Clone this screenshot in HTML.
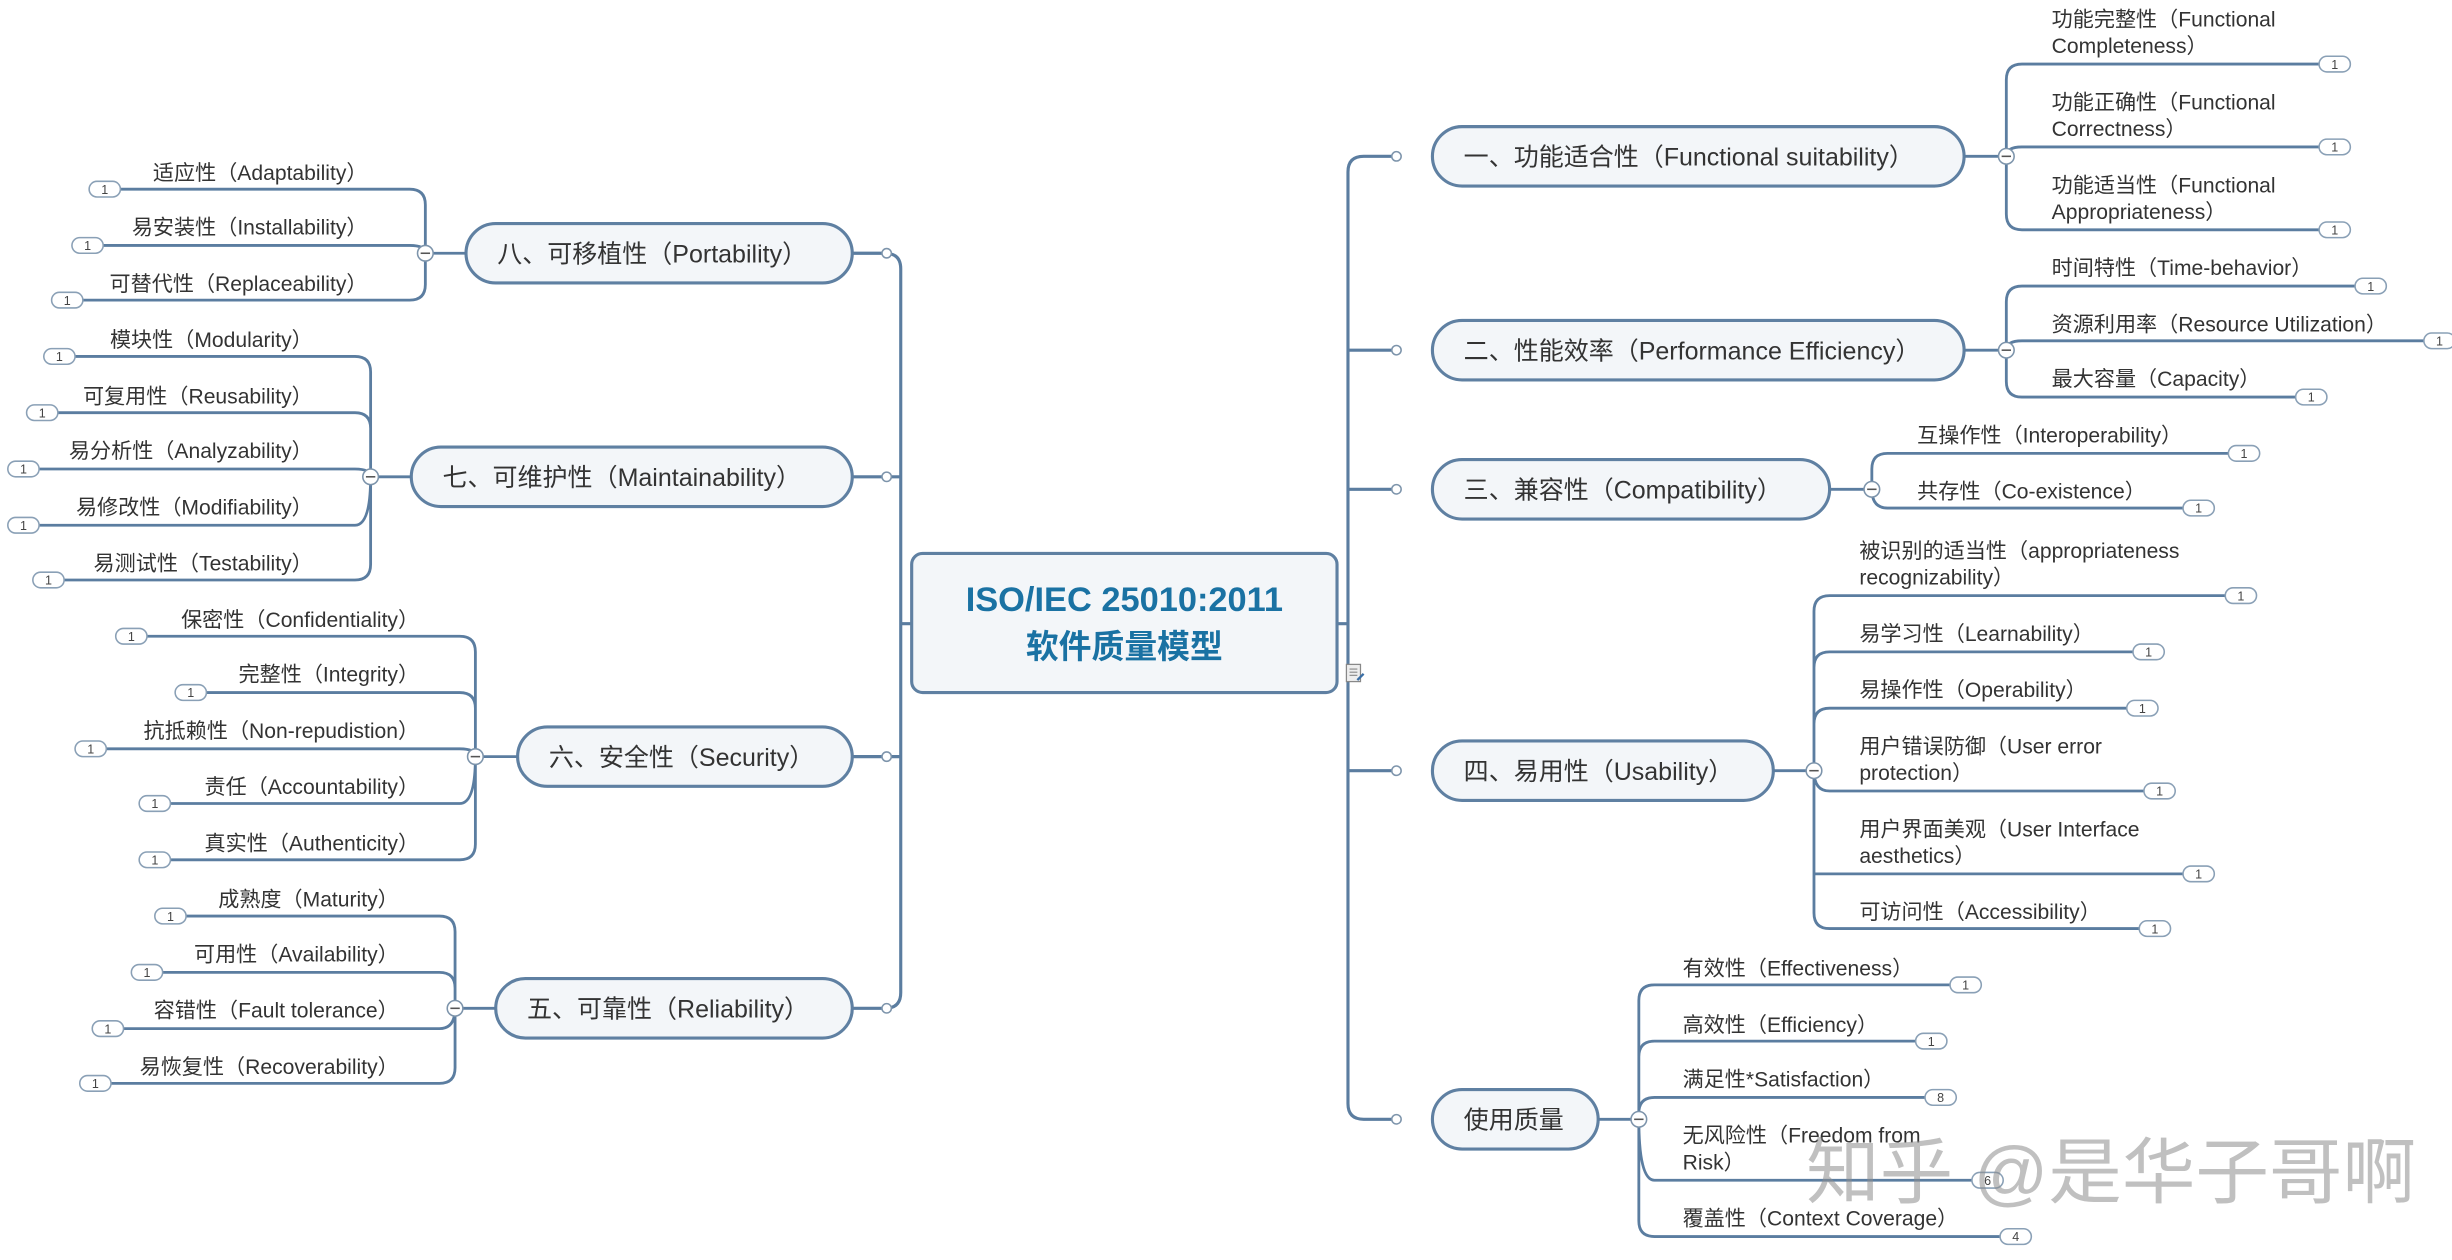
<!DOCTYPE html>
<html><head><meta charset="utf-8">
<style>
html,body{margin:0;padding:0;background:#fff;}
svg{display:block;}
text{font-family:"Liberation Sans","Noto Sans CJK SC",sans-serif;}
.c{font-size:13.5px;fill:#333;}
.b{font-size:16px;fill:#333;}
.bg{font-size:8px;fill:#444;text-anchor:middle;}
.l{fill:none;stroke:#5b7da0;stroke-width:2;}
.k{fill:none;stroke:#5b7da0;stroke-width:1.8;}
.box{fill:#f3f6f9;stroke:#5f80a2;stroke-width:2;}
.bd{fill:#fff;stroke:#8aa0b6;stroke-width:1;}
.cc{fill:#fff;stroke:#7d94ab;stroke-width:1;}
</style></head><body>
<svg width="2452" height="1260" viewBox="0 0 1568 806" preserveAspectRatio="none" xmlns="http://www.w3.org/2000/svg">
<rect width="1568" height="806" fill="#fff"/>
<path class="l" d="M855 399 H862 M893 100 H872 Q862 100 862 110 V706 Q862 716 872 716 H893 M862 224 H893 M862 313 H893 M862 493 H893"/>
<path class="l" d="M583 399 H576 M545 162 H566 Q576 162 576 172 V635 Q576 645 566 645 H545 M576 305 H545 M576 484 H545"/>
<circle class="cc" cx="893" cy="100" r="3"/><circle class="cc" cx="893" cy="224" r="3"/><circle class="cc" cx="893" cy="313" r="3"/><circle class="cc" cx="893" cy="493" r="3"/><circle class="cc" cx="893" cy="716" r="3"/>
<circle class="cc" cx="567" cy="162" r="3"/><circle class="cc" cx="567" cy="305" r="3"/><circle class="cc" cx="567" cy="484" r="3"/><circle class="cc" cx="567" cy="645" r="3"/>

<rect x="583" y="354" width="272" height="89" rx="7" class="box"/>
<text x="719" y="391" text-anchor="middle" style="font-size:22px;font-weight:bold;fill:#1a72a3">ISO/IEC 25010:2011</text>
<text x="719" y="421" text-anchor="middle" style="font-size:21px;font-weight:bold;fill:#1a72a3">软件质量模型</text>
<g transform="translate(861,425)"><rect x="0" y="0" width="9" height="11" fill="#eee" stroke="#888" stroke-width="0.8"/><path d="M2 3H7M2 5H7M2 7H7" stroke="#888" stroke-width="0.7"/><path d="M7 10 L11 6" stroke="#3a6ea5" stroke-width="1.5"/></g>

<rect x="916" y="81" width="340" height="38" rx="19" class="box"/><text class="b" x="936" y="106">一、功能适合性（Functional suitability）</text>
<rect x="916" y="205" width="340" height="38" rx="19" class="box"/><text class="b" x="936" y="230">二、性能效率（Performance Efficiency）</text>
<rect x="916" y="294" width="254" height="38" rx="19" class="box"/><text class="b" x="936" y="319">三、兼容性（Compatibility）</text>
<rect x="916" y="474" width="218" height="38" rx="19" class="box"/><text class="b" x="936" y="499">四、易用性（Usability）</text>
<rect x="916" y="697" width="106" height="38" rx="19" class="box"/><text class="b" x="936" y="722">使用质量</text>
<rect x="298" y="143" width="247" height="38" rx="19" class="box"/><text class="b" x="318" y="168">八、可移植性（Portability）</text>
<rect x="263" y="286" width="282" height="38" rx="19" class="box"/><text class="b" x="283" y="311">七、可维护性（Maintainability）</text>
<rect x="331" y="465" width="214" height="38" rx="19" class="box"/><text class="b" x="351" y="490">六、安全性（Security）</text>
<rect x="317" y="626" width="228" height="38" rx="19" class="box"/><text class="b" x="337" y="651">五、可靠性（Reliability）</text>

<path class="k" d="M1256 100 H1283 M1283 100 V51 Q1283 41 1293 41 H1483 M1283 100 Q1283 94 1293 94 H1483 M1283 100 V137 Q1283 147 1293 147 H1483"/>
<circle class="cc" cx="1283" cy="100" r="5"/><path d="M1280 100H1286" stroke="#555"/>
<text class="c" x="1312" y="17">功能完整性（Functional</text><text class="c" x="1312" y="34">Completeness）</text>
<text class="c" x="1312" y="70">功能正确性（Functional</text><text class="c" x="1312" y="87">Correctness）</text>
<text class="c" x="1312" y="123">功能适当性（Functional</text><text class="c" x="1312" y="140">Appropriateness）</text>
<rect class="bd" x="1483" y="36" width="20" height="10" rx="5"/><text class="bg" x="1493" y="44">1</text>
<rect class="bd" x="1483" y="89" width="20" height="10" rx="5"/><text class="bg" x="1493" y="97">1</text>
<rect class="bd" x="1483" y="142" width="20" height="10" rx="5"/><text class="bg" x="1493" y="150">1</text>

<path class="k" d="M1256 224 H1283 M1283 224 V193 Q1283 183 1293 183 H1506 M1283 224 Q1283 218 1293 218 H1550 M1283 224 V244 Q1283 254 1293 254 H1468"/>
<circle class="cc" cx="1283" cy="224" r="5"/><path d="M1280 224H1286" stroke="#555"/>
<text class="c" x="1312" y="176">时间特性（Time-behavior）</text>
<text class="c" x="1312" y="212">资源利用率（Resource Utilization）</text>
<text class="c" x="1312" y="247">最大容量（Capacity）</text>
<rect class="bd" x="1506" y="178" width="20" height="10" rx="5"/><text class="bg" x="1516" y="186">1</text>
<rect class="bd" x="1550" y="213" width="20" height="10" rx="5"/><text class="bg" x="1560" y="221">1</text>
<rect class="bd" x="1468" y="249" width="20" height="10" rx="5"/><text class="bg" x="1478" y="257">1</text>

<path class="k" d="M1170 313 H1197 M1197 313 V300 Q1197 290 1207 290 H1425 M1197 313 Q1197 325 1207 325 H1396"/>
<circle class="cc" cx="1197" cy="313" r="5"/><path d="M1194 313H1200" stroke="#555"/>
<text class="c" x="1226" y="283">互操作性（Interoperability）</text>
<text class="c" x="1226" y="319">共存性（Co-existence）</text>
<rect class="bd" x="1425" y="285" width="20" height="10" rx="5"/><text class="bg" x="1435" y="293">1</text>
<rect class="bd" x="1396" y="320" width="20" height="10" rx="5"/><text class="bg" x="1406" y="328">1</text>

<path class="k" d="M1134 493 H1160 M1160 493 V391 Q1160 381 1170 381 H1423 M1160 427 Q1160 417 1170 417 H1364 M1160 463 Q1160 453 1170 453 H1360 M1160 493 Q1160 506 1170 506 H1371 M1160 493 V584 Q1160 594 1170 594 H1368 M1160 559 H1396"/>
<circle class="cc" cx="1160" cy="493" r="5"/><path d="M1157 493H1163" stroke="#555"/>
<text class="c" x="1189" y="357">被识别的适当性（appropriateness</text><text class="c" x="1189" y="374">recognizability）</text>
<text class="c" x="1189" y="410">易学习性（Learnability）</text>
<text class="c" x="1189" y="446">易操作性（Operability）</text>
<text class="c" x="1189" y="482">用户错误防御（User error</text><text class="c" x="1189" y="499">protection）</text>
<text class="c" x="1189" y="535">用户界面美观（User Interface</text><text class="c" x="1189" y="552">aesthetics）</text>
<text class="c" x="1189" y="588">可访问性（Accessibility）</text>
<rect class="bd" x="1423" y="376" width="20" height="10" rx="5"/><text class="bg" x="1433" y="384">1</text>
<rect class="bd" x="1364" y="412" width="20" height="10" rx="5"/><text class="bg" x="1374" y="420">1</text>
<rect class="bd" x="1360" y="448" width="20" height="10" rx="5"/><text class="bg" x="1370" y="456">1</text>
<rect class="bd" x="1371" y="501" width="20" height="10" rx="5"/><text class="bg" x="1381" y="509">1</text>
<rect class="bd" x="1396" y="554" width="20" height="10" rx="5"/><text class="bg" x="1406" y="562">1</text>
<rect class="bd" x="1368" y="589" width="20" height="10" rx="5"/><text class="bg" x="1378" y="597">1</text>

<path class="k" d="M1022 716 H1048 M1048 716 V640 Q1048 630 1058 630 H1247 M1048 676 Q1048 666 1058 666 H1225 M1048 712 Q1048 702 1058 702 H1231 M1048 716 Q1048 755 1058 755 H1261 M1048 716 V781 Q1048 791 1058 791 H1279"/>
<circle class="cc" cx="1048" cy="716" r="5"/><path d="M1045 716H1051" stroke="#555"/>
<text class="c" x="1076" y="624">有效性（Effectiveness）</text>
<text class="c" x="1076" y="660">高效性（Efficiency）</text>
<text class="c" x="1076" y="695">满足性*Satisfaction）</text>
<text class="c" x="1076" y="731">无风险性（Freedom from</text><text class="c" x="1076" y="748">Risk）</text>
<text class="c" x="1076" y="784">覆盖性（Context Coverage）</text>
<rect class="bd" x="1247" y="625" width="20" height="10" rx="5"/><text class="bg" x="1257" y="633">1</text>
<rect class="bd" x="1225" y="661" width="20" height="10" rx="5"/><text class="bg" x="1235" y="669">1</text>
<rect class="bd" x="1231" y="697" width="20" height="10" rx="5"/><text class="bg" x="1241" y="705">8</text>
<rect class="bd" x="1261" y="750" width="20" height="10" rx="5"/><text class="bg" x="1271" y="758">6</text>
<rect class="bd" x="1279" y="786" width="20" height="10" rx="5"/><text class="bg" x="1289" y="794">4</text>

<path class="k" d="M298 162 H272 M272 162 V131 Q272 121 262 121 H77 M272 162 Q272 157 262 157 H66 M272 162 V182 Q272 192 262 192 H53"/>
<circle class="cc" cx="272" cy="162" r="5"/><path d="M269 162H275" stroke="#555"/>
<text class="c" x="235" y="115" text-anchor="end">适应性（Adaptability）</text>
<text class="c" x="235" y="150" text-anchor="end">易安装性（Installability）</text>
<text class="c" x="235" y="186" text-anchor="end">可替代性（Replaceability）</text>
<rect class="bd" x="57" y="116" width="20" height="10" rx="5"/><text class="bg" x="67" y="124">1</text>
<rect class="bd" x="46" y="152" width="20" height="10" rx="5"/><text class="bg" x="56" y="160">1</text>
<rect class="bd" x="33" y="187" width="20" height="10" rx="5"/><text class="bg" x="43" y="195">1</text>

<path class="k" d="M263 305 H237 M237 305 V238 Q237 228 227 228 H48 M237 274 V305 M237 274 Q237 264 227 264 H37 M237 305 Q237 300 227 300 H25 M237 305 Q237 336 227 336 H25 M237 305 V361 Q237 371 227 371 H41"/>
<circle class="cc" cx="237" cy="305" r="5"/><path d="M234 305H240" stroke="#555"/>
<text class="c" x="200" y="222" text-anchor="end">模块性（Modularity）</text>
<text class="c" x="200" y="258" text-anchor="end">可复用性（Reusability）</text>
<text class="c" x="200" y="293" text-anchor="end">易分析性（Analyzability）</text>
<text class="c" x="200" y="329" text-anchor="end">易修改性（Modifiability）</text>
<text class="c" x="200" y="365" text-anchor="end">易测试性（Testability）</text>
<rect class="bd" x="28" y="223" width="20" height="10" rx="5"/><text class="bg" x="38" y="231">1</text>
<rect class="bd" x="17" y="259" width="20" height="10" rx="5"/><text class="bg" x="27" y="267">1</text>
<rect class="bd" x="5" y="295" width="20" height="10" rx="5"/><text class="bg" x="15" y="303">1</text>
<rect class="bd" x="5" y="331" width="20" height="10" rx="5"/><text class="bg" x="15" y="339">1</text>
<rect class="bd" x="21" y="366" width="20" height="10" rx="5"/><text class="bg" x="31" y="374">1</text>

<path class="k" d="M331 484 H304 M304 484 V417 Q304 407 294 407 H94 M304 453 Q304 443 294 443 H132 M304 484 Q304 479 294 479 H68 M304 484 Q304 514 294 514 H109 M304 484 V540 Q304 550 294 550 H109"/>
<circle class="cc" cx="304" cy="484" r="5"/><path d="M301 484H307" stroke="#555"/>
<text class="c" x="268" y="401" text-anchor="end">保密性（Confidentiality）</text>
<text class="c" x="268" y="436" text-anchor="end">完整性（Integrity）</text>
<text class="c" x="268" y="472" text-anchor="end">抗抵赖性（Non-repudistion）</text>
<text class="c" x="268" y="508" text-anchor="end">责任（Accountability）</text>
<text class="c" x="268" y="544" text-anchor="end">真实性（Authenticity）</text>
<rect class="bd" x="74" y="402" width="20" height="10" rx="5"/><text class="bg" x="84" y="410">1</text>
<rect class="bd" x="112" y="438" width="20" height="10" rx="5"/><text class="bg" x="122" y="446">1</text>
<rect class="bd" x="48" y="474" width="20" height="10" rx="5"/><text class="bg" x="58" y="482">1</text>
<rect class="bd" x="89" y="509" width="20" height="10" rx="5"/><text class="bg" x="99" y="517">1</text>
<rect class="bd" x="89" y="545" width="20" height="10" rx="5"/><text class="bg" x="99" y="553">1</text>

<path class="k" d="M317 645 H291 M291 645 V596 Q291 586 281 586 H119 M291 632 Q291 622 281 622 H104 M291 645 Q291 658 281 658 H79 M291 645 V683 Q291 693 281 693 H71"/>
<circle class="cc" cx="291" cy="645" r="5"/><path d="M288 645H294" stroke="#555"/>
<text class="c" x="255" y="580" text-anchor="end">成熟度（Maturity）</text>
<text class="c" x="255" y="615" text-anchor="end">可用性（Availability）</text>
<text class="c" x="255" y="651" text-anchor="end">容错性（Fault tolerance）</text>
<text class="c" x="255" y="687" text-anchor="end">易恢复性（Recoverability）</text>
<rect class="bd" x="99" y="581" width="20" height="10" rx="5"/><text class="bg" x="109" y="589">1</text>
<rect class="bd" x="84" y="617" width="20" height="10" rx="5"/><text class="bg" x="94" y="625">1</text>
<rect class="bd" x="59" y="653" width="20" height="10" rx="5"/><text class="bg" x="69" y="661">1</text>
<rect class="bd" x="51" y="688" width="20" height="10" rx="5"/><text class="bg" x="61" y="696">1</text>

<text x="1155" y="766" textLength="390" lengthAdjust="spacingAndGlyphs" style="font-size:46px;fill:#8c8c8c;fill-opacity:0.55">知乎 @是华子哥啊</text>
</svg>
</body></html>
